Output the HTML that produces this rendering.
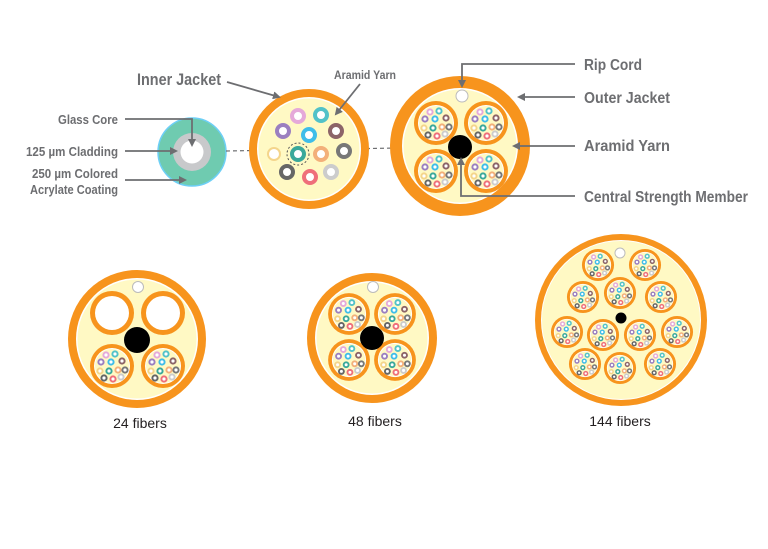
<!DOCTYPE html>
<html><head><meta charset="utf-8"><style>
html,body{margin:0;padding:0;background:#fff}
svg{display:block}
.lb{font-family:"Liberation Sans",sans-serif;font-weight:bold;fill:#6d6e71}
.bt{font-family:"Liberation Sans",sans-serif;fill:#231f20;font-size:14px}
</style></head><body>
<svg width="768" height="549" viewBox="0 0 768 549" xmlns="http://www.w3.org/2000/svg">
<defs>
<marker id="ar" markerWidth="8" markerHeight="8" refX="6" refY="4" orient="auto" markerUnits="userSpaceOnUse"><path d="M0,0 L8,4 L0,8 Z" fill="#6d6e71"/></marker>
<g id="su">
 <circle r="22" fill="#f7941d"/>
 <circle r="18" fill="#fff"/>
 <circle r="17" fill="#fff9c4"/>
 <g stroke-width="2" fill="#fff">
  <circle cx="-6" cy="-11" r="2.6" stroke="#e5a9d9"/>
  <circle cx="3" cy="-12" r="2.6" stroke="#52c2c8"/>
  <circle cx="-11" cy="-4" r="2.6" stroke="#9b7fc0"/>
  <circle cx="-1" cy="-4" r="2.6" stroke="#3fbde9"/>
  <circle cx="10" cy="-5" r="2.6" stroke="#8c6468"/>
  <circle cx="-12" cy="5" r="2.6" stroke="#f4d58b"/>
  <circle cx="-3" cy="5" r="2.6" stroke="#3aa89a"/>
  <circle cx="6" cy="4" r="2.6" stroke="#f3b07a"/>
  <circle cx="13" cy="4" r="2.6" stroke="#777"/>
  <circle cx="-8" cy="12" r="2.6" stroke="#666"/>
  <circle cx="1" cy="13" r="2.6" stroke="#ef6f7a"/>
  <circle cx="9" cy="11" r="2.6" stroke="#ccc"/>
 </g>
</g>
<g id="ring"><circle r="22" fill="#f7941d"/><circle r="17" fill="#fff"/></g>
</defs>

<!-- Fiber -->
<circle cx="192" cy="152" r="34" fill="#6fcbb0" stroke="#6dcff6" stroke-width="1.5"/>
<circle cx="192" cy="152" r="19" fill="#c8c9cb"/>
<circle cx="192" cy="152" r="11.5" fill="#fff"/>
<line x1="226" y1="151" x2="512" y2="146" stroke="#6d6e71" stroke-dasharray="4,3" stroke-width="1.2"/>

<!-- subunit -->
<circle cx="309" cy="149" r="60" fill="#f7941d"/>
<circle cx="309" cy="149" r="52" fill="#fff"/>
<circle cx="309" cy="149" r="50.5" fill="#fff9c4"/>
<g stroke-width="4" fill="#fff">
 <circle cx="298" cy="116" r="6" stroke="#e5a9d9"/>
 <circle cx="321" cy="115" r="6" stroke="#52c2c8"/>
 <circle cx="283" cy="131" r="6" stroke="#9b7fc0"/>
 <circle cx="309" cy="135" r="6" stroke="#3fbde9"/>
 <circle cx="336" cy="131" r="6" stroke="#8c6468"/>
 <circle cx="274" cy="154" r="6" stroke="#f4d58b" stroke-width="2"/>
 <circle cx="298" cy="154" r="6" stroke="#3aa89a"/>
 <circle cx="321" cy="154" r="6" stroke="#f3b07a"/>
 <circle cx="344" cy="151" r="6" stroke="#777"/>
 <circle cx="287" cy="172" r="6" stroke="#666"/>
 <circle cx="310" cy="177" r="6" stroke="#ef6f7a"/>
 <circle cx="331" cy="172" r="6" stroke="#ccc"/>
</g>
<circle cx="298" cy="154" r="11" fill="none" stroke="#555" stroke-dasharray="2,2"/>

<!-- Top big cable -->
<circle cx="460" cy="146" r="70" fill="#f7941d"/>
<circle cx="460" cy="146" r="58" fill="#fff"/>
<circle cx="460" cy="146" r="56.5" fill="#fff9c4"/>
<use href="#su" transform="translate(436,123)"/>
<use href="#su" transform="translate(486,123)"/>
<use href="#su" transform="translate(436,171)"/>
<use href="#su" transform="translate(486,171)"/>
<circle cx="460" cy="147" r="12" fill="#000"/>
<circle cx="462" cy="96" r="6" fill="#fff" stroke="#bbb"/>

<!-- labels and leaders -->
<g stroke="#6d6e71" stroke-width="1.8" fill="none">
 <path d="M125,119 H192 V145" marker-end="url(#ar)"/>
 <path d="M125,151 H176" marker-end="url(#ar)"/>
 <path d="M125,180 H185" marker-end="url(#ar)"/>
 <path d="M227,82 L279,97" marker-end="url(#ar)"/>
 <path d="M360,84 L336,114" marker-end="url(#ar)"/>
 <path d="M575,64 H462 V86" marker-end="url(#ar)"/>
 <path d="M575,97 H519" marker-end="url(#ar)"/>
 <path d="M575,146 H514" marker-end="url(#ar)"/>
 <path d="M575,196 H461 V159" marker-end="url(#ar)"/>
</g>
<text class="lb" x="221" y="85" font-size="17" text-anchor="end" textLength="84" lengthAdjust="spacingAndGlyphs">Inner Jacket</text>
<text class="lb" x="334" y="79" font-size="12" textLength="62" lengthAdjust="spacingAndGlyphs">Aramid Yarn</text>
<text class="lb" x="118" y="124" font-size="13" text-anchor="end" textLength="60" lengthAdjust="spacingAndGlyphs">Glass Core</text>
<text class="lb" x="118" y="156" font-size="13" text-anchor="end" textLength="92" lengthAdjust="spacingAndGlyphs">125 µm Cladding</text>
<text class="lb" x="118" y="178" font-size="13" text-anchor="end" textLength="86" lengthAdjust="spacingAndGlyphs">250 µm Colored</text>
<text class="lb" x="118" y="194" font-size="13" text-anchor="end" textLength="88" lengthAdjust="spacingAndGlyphs">Acrylate Coating</text>
<text class="lb" x="584" y="70" font-size="16" textLength="58" lengthAdjust="spacingAndGlyphs">Rip Cord</text>
<text class="lb" x="584" y="103" font-size="16" textLength="86" lengthAdjust="spacingAndGlyphs">Outer Jacket</text>
<text class="lb" x="584" y="151" font-size="16" textLength="86" lengthAdjust="spacingAndGlyphs">Aramid Yarn</text>
<text class="lb" x="584" y="202" font-size="16" textLength="164" lengthAdjust="spacingAndGlyphs">Central Strength Member</text>

<!-- 24 fibers -->
<circle cx="137" cy="339" r="69" fill="#f7941d"/>
<circle cx="137" cy="339" r="61" fill="#fff"/>
<circle cx="137" cy="339" r="59.5" fill="#fff9c4"/>
<use href="#ring" transform="translate(112,313)"/>
<use href="#ring" transform="translate(163,313)"/>
<use href="#su" transform="translate(112,366)"/>
<use href="#su" transform="translate(163,366)"/>
<circle cx="137" cy="340" r="13" fill="#000"/>
<circle cx="138" cy="287" r="5.5" fill="#fff" stroke="#bbb"/>
<text class="bt" x="140" y="428" text-anchor="middle">24 fibers</text>

<!-- 48 fibers -->
<circle cx="372" cy="338" r="65" fill="#f7941d"/>
<circle cx="372" cy="338" r="57" fill="#fff"/>
<circle cx="372" cy="338" r="55.5" fill="#fff9c4"/>
<use href="#su" transform="translate(349,314) scale(0.95)"/>
<use href="#su" transform="translate(395,314) scale(0.95)"/>
<use href="#su" transform="translate(349,360) scale(0.95)"/>
<use href="#su" transform="translate(395,360) scale(0.95)"/>
<circle cx="372" cy="338" r="12" fill="#000"/>
<circle cx="373" cy="287" r="5.5" fill="#fff" stroke="#bbb"/>
<text class="bt" x="375" y="426" text-anchor="middle">48 fibers</text>

<!-- 144 fibers -->
<circle cx="621" cy="320" r="86" fill="#f7941d"/>
<circle cx="621" cy="320" r="80" fill="#fff"/>
<circle cx="621" cy="320" r="79" fill="#fff9c4"/>
<g>
<use href="#su" transform="translate(598,265) scale(0.73)"/>
<use href="#su" transform="translate(645,265) scale(0.73)"/>
<use href="#su" transform="translate(583,297) scale(0.73)"/>
<use href="#su" transform="translate(620,293) scale(0.73)"/>
<use href="#su" transform="translate(661,297) scale(0.73)"/>
<use href="#su" transform="translate(567,332) scale(0.73)"/>
<use href="#su" transform="translate(603,335) scale(0.73)"/>
<use href="#su" transform="translate(640,335) scale(0.73)"/>
<use href="#su" transform="translate(677,332) scale(0.73)"/>
<use href="#su" transform="translate(585,364) scale(0.73)"/>
<use href="#su" transform="translate(620,368) scale(0.73)"/>
<use href="#su" transform="translate(660,364) scale(0.73)"/>
</g>
<circle cx="621" cy="318" r="5.5" fill="#000"/>
<circle cx="620" cy="253" r="5" fill="#fff" stroke="#bbb"/>
<text class="bt" x="620" y="426" text-anchor="middle">144 fibers</text>
</svg>
</body></html>
